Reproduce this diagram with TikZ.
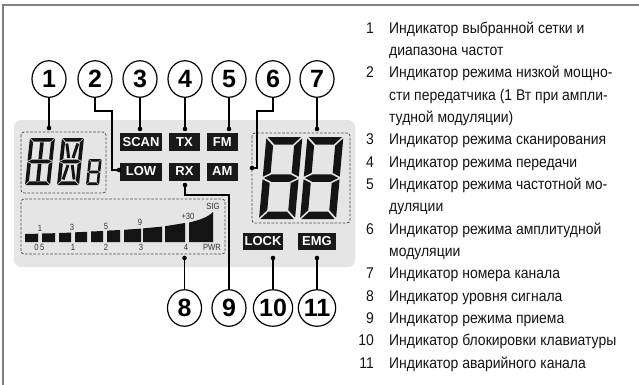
\documentclass[tikz,border=0pt]{standalone}
\usepackage{fontspec}
\setmainfont{Liberation Sans}
\newfontfamily\narrowfont[FakeStretch=0.85]{Liberation Sans}
\newfontfamily\listfont[FakeStretch=0.9]{Liberation Sans}
\usetikzlibrary{shapes.geometric}
\newcommand\lcdchar[7]{%
 \begin{scope}[shift={(#1,#2)}, xslant=#6]
  \pgfmathsetmacro\sW{#3}\pgfmathsetmacro\sH{#4}\pgfmathsetmacro\sT{#5}
  \pgfmathsetmacro\sG{0.18*\sT}
  \pgfmathsetmacro\sM{\sH/2}
  \pgfmathsetmacro\sB{\sW-\sG}
  \pgfmathsetmacro\sC{\sT+\sG}
  \pgfmathsetmacro\sD{\sW-\sT-\sG}
  \pgfmathsetmacro\sE{\sW-\sT}
  \pgfmathsetmacro\sHn{-\sH}
  \pgfmathsetmacro\sI{-(\sH-\sT)}
  \pgfmathsetmacro\sJ{-(\sH-\sG)}
  \pgfmathsetmacro\sK{-(\sH-\sT-\sG)}
  \pgfmathsetmacro\sL{-(\sM+\sT/2+\sG)}
  \pgfmathsetmacro\sN{-(\sM+\sG)}
  \pgfmathsetmacro\sO{-(\sM-\sG)}
  \pgfmathsetmacro\sP{-(\sM-\sT/2-\sG)}
  \pgfmathsetmacro\sQ{-(\sT+\sG)}
  \pgfmathsetmacro\sR{-\sG}
  \pgfmathsetmacro\sU{-(\sM+\sT/2)}
  \pgfmathsetmacro\sV{-(\sM-\sT/2)}
  \pgfmathsetmacro\sMn{-\sM}
  \pgfmathsetmacro\sTn{-\sT}
  \fill[seg] (\sG,\sHn) -- (\sB,\sHn) -- (\sD,\sI) -- (\sC,\sI) -- cycle;
  \fill[seg] (\sG,0) -- (\sB,0) -- (\sD,\sTn) -- (\sC,\sTn) -- cycle;
  \fill[seg] (\sG,\sMn) -- (\sC,\sU) -- (\sD,\sU) -- (\sB,\sMn) -- (\sD,\sV) -- (\sC,\sV) -- cycle;
  \fill[seg] (0,\sJ) -- (\sT,\sK) -- (\sT,\sL) -- (0,\sN) -- cycle;
  \fill[seg] (\sW,\sJ) -- (\sE,\sK) -- (\sE,\sL) -- (\sW,\sN) -- cycle;
  \fill[seg] (0,\sR) -- (\sT,\sQ) -- (\sT,\sP) -- (0,\sO) -- cycle;
  \fill[seg] (\sW,\sR) -- (\sE,\sQ) -- (\sE,\sP) -- (\sW,\sO) -- cycle;
  #7
 \end{scope}}
\newcommand\lcdctr{%
  \fill[seg] ({\sW/2-\sT/2},\sK) rectangle ({\sW/2+\sT/2},\sL);
  \fill[seg] ({\sW/2-\sT/2},\sQ) rectangle ({\sW/2+\sT/2},\sP);}
\newcommand\lcddiag{%
  \pgfmathsetmacro\sDW{0.8*\sT}
  \draw[black!92, line width=\sDW pt] ({\sC+0.35*\sT},{\sK+0.35*\sT}) -- ({\sW/2-0.6*\sT},{\sL-0.3*\sT});
  \draw[black!92, line width=\sDW pt] ({\sW-\sC-0.35*\sT},{\sK+0.35*\sT}) -- ({\sW/2+0.6*\sT},{\sL-0.3*\sT});
  \draw[black!92, line width=\sDW pt] ({\sC+0.35*\sT},{\sQ-0.35*\sT}) -- ({\sW/2-0.6*\sT},{\sP+0.3*\sT});
  \draw[black!92, line width=\sDW pt] ({\sW-\sC-0.35*\sT},{\sQ-0.35*\sT}) -- ({\sW/2+0.6*\sT},{\sP+0.3*\sT});}
\begin{document}
\begin{tikzpicture}[x=1pt,y=-1pt,
  frame/.style={draw=black!50, line width=2pt},
  panel/.style={fill=black!10, rounded corners=7pt},
  dbox/.style={draw=black!70, line width=0.8pt, dash pattern=on 2.6pt off 1.6pt, rounded corners=3pt},
  ind/.style={fill=black!90, text=white, font=\fontsize{13}{13}\selectfont\bfseries, inner sep=0pt, minimum height=18pt},
  callout/.style={draw, ellipse, line width=1.2pt, minimum width=34pt, minimum height=36.5pt, inner sep=0pt, font=\fontsize{25}{25}\selectfont\bfseries},
  con/.style={line width=1.1pt},
  pin/.style={circle, fill, inner sep=0pt, minimum size=4.6pt},
  seg/.style={fill=black!92},
  sglbl/.style={font=\narrowfont\fontsize{9}{9}\selectfont, text=black!80, inner sep=0pt},
  itemnum/.style={anchor=base east, inner sep=0pt, text=black!92, font=\listfont\fontsize{15.5}{15.5}\selectfont},
  itemtxt/.style={anchor=base west, inner sep=0pt, text=black!92, font=\listfont\fontsize{15.5}{15.5}\selectfont}]
\useasboundingbox (0,0) rectangle (639,384);
\clip (0,0) rectangle (639,384);
\fill[white] (0,0) rectangle (639,384);
% frame
\draw[frame] (3,395) -- (3,5) -- (650,5);
% panel
\fill[panel] (14,120) rectangle (355,267);
% dashed groups
\draw[dbox] (21,132) rectangle (106,193);
\draw[dbox] (21,199) rectangle (225,254);
\draw[dbox] (252,133) rectangle (350,223);
% small segment characters
\lcdchar{25}{185}{25}{47}{3.6}{0.105}{\lcdctr}
\lcdchar{57}{185}{22}{47}{3.6}{0.105}{\lcddiag}
\lcdchar{86}{185}{13}{26}{2.6}{0.105}{}
% big digits
\lcdchar{259}{219}{36}{82}{7.5}{0.09}{}
\lcdchar{300}{219}{36}{82}{7.5}{0.09}{}
% signal bars
\foreach \xl/\xr/\ya/\yb in {25/38/234/233.7, 42/55/233.5/233.2, 59/71/233/232.6, 75/87/232.3/231.8, 91/103/231.5/231, 107/120/230.6/230, 124/141/229.8/228.6, 143/162/228.4/226.6, 165/185/226.2/223}
  \fill[seg] (\xl,242) -- (\xl,\ya) -- (\xr,\yb) -- (\xr,242) -- cycle;
\fill[seg] (189,242) -- (189,222.5) .. controls (200,220) and (208,217) .. (213,212) -- (213,242) -- cycle;
\node[sglbl] (s1) at (40,228) {1};
\node[sglbl] (s3) at (72,227.5) {3};
\node[sglbl] (s5) at (106,226) {5};
\node[sglbl] (s9) at (140,222.5) {9};
\node[sglbl] (s30) at (188,216.5) {+30};
\node[sglbl] (sig) at (213,206) {SIG};
\node[sglbl] (p05) at (39.5,247.5) {0\,5};
\node[sglbl] (p1) at (73,247.5) {1};
\node[sglbl] (p2) at (106,247.5) {2};
\node[sglbl] (p3) at (141,247.5) {3};
\node[sglbl] (p4) at (186,247.5) {4};
\node[sglbl] (pwr) at (212,247.5) {PWR};
% indicator boxes
\node[ind, minimum width=42pt] (scan) at (141,142) {SCAN};
\node[ind, minimum width=31pt] (tx) at (184.5,142) {TX};
\node[ind, minimum width=31pt] (fm) at (222.3,142) {FM};
\node[ind, minimum width=42pt] (low) at (141,171.5) {LOW};
\node[ind, minimum width=31pt] (rx) at (184.5,171.5) {RX};
\node[ind, minimum width=31pt] (am) at (222.3,171.5) {AM};
\node[ind, minimum width=40pt, minimum height=17pt] (lock) at (263,241.5) {LOCK};
\node[ind, minimum width=38pt, minimum height=17pt] (emg) at (317,241.5) {EMG};
% callouts
\node[callout] (c1) at (49,79) {1};
\node[callout] (c2) at (95,79) {2};
\node[callout] (c3) at (140,79) {3};
\node[callout] (c4) at (185,79) {4};
\node[callout] (c5) at (229,79) {5};
\node[callout] (c6) at (273,79) {6};
\node[callout] (c7) at (317,79) {7};
\node[callout] (c8) at (184.5,308) {8};
\node[callout] (c9) at (229,308) {9};
\node[callout] (c10) at (273,308) {10};
\node[callout] (c11) at (317,308) {11};
% pins
\node[pin] (d1) at (49,128) {};
\node[pin] (d2) at (119,170) {};
\node[pin] (d3) at (140,129) {};
\node[pin] (d4) at (185,129) {};
\node[pin] (d5) at (229,129) {};
\node[pin] (d6) at (252,168) {};
\node[pin] (d7) at (317,129) {};
\node[pin] (d8) at (184.5,258) {};
\node[pin] (d9) at (185,185) {};
\node[pin] (d10) at (273,258) {};
\node[pin] (d11) at (317,258) {};
\coordinate (b2) at (112,111);
\coordinate (b6) at (257,111);
\coordinate (b9) at (229,195);
% connectors
\draw[con] (c1.south) -- (d1.center);
\draw[con] (c2.south) |- (b2) |- (d2.center);
\draw[con] (c3.south) -- (d3.center);
\draw[con] (c4.south) -- (d4.center);
\draw[con] (c5.south) -- (d5.center);
\draw[con] (c6.south) |- (b6) |- (d6.center);
\draw[con] (c7.south) -- (d7.center);
\draw[con] (d8.center) -- (c8.north);
\draw[con] (d9.center) |- (b9) -- (c9.north);
\draw[con] (d10.center) -- (c10.north);
\draw[con] (d11.center) -- (c11.north);
% legend
\node[itemnum] (n1) at (374,33) {1};
\node[itemtxt] (t1) at (389,33) {Индикатор выбранной сетки и};
\node[itemtxt] (t1b) at (389,55.3) {диапазона частот};
\node[itemnum] (n2) at (374,77.7) {2};
\node[itemtxt] (t2) at (389,77.7) {Индикатор режима низкой мощно-};
\node[itemtxt] (t2b) at (389,100) {сти передатчика (1 Вт при ампли-};
\node[itemtxt] (t2c) at (389,122.3) {тудной модуляции)};
\node[itemnum] (n3) at (374,144.7) {3};
\node[itemtxt] (t3) at (389,144.7) {Индикатор режима сканирования};
\node[itemnum] (n4) at (374,167) {4};
\node[itemtxt] (t4) at (389,167) {Индикатор режима передачи};
\node[itemnum] (n5) at (374,189.3) {5};
\node[itemtxt] (t5) at (389,189.3) {Индикатор режима частотной мо-};
\node[itemtxt] (t5b) at (389,211.7) {дуляции};
\node[itemnum] (n6) at (374,234) {6};
\node[itemtxt] (t6) at (389,234) {Индикатор режима амплитудной};
\node[itemtxt] (t6b) at (389,256.3) {модуляции};
\node[itemnum] (n7) at (374,278.7) {7};
\node[itemtxt] (t7) at (389,278.7) {Индикатор номера канала};
\node[itemnum] (n8) at (374,301) {8};
\node[itemtxt] (t8) at (389,301) {Индикатор уровня сигнала};
\node[itemnum] (n9) at (374,323.3) {9};
\node[itemtxt] (t9) at (389,323.3) {Индикатор режима приема};
\node[itemnum] (n10) at (374,345.7) {10};
\node[itemtxt] (t10) at (389,345.7) {Индикатор блокировки клавиатуры};
\node[itemnum] (n11) at (374,368) {11};
\node[itemtxt] (t11) at (389,368) {Индикатор аварийного канала};
\end{tikzpicture}
\end{document}
